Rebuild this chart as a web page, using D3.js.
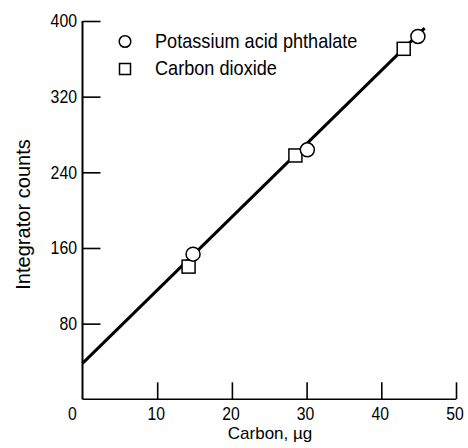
<!DOCTYPE html>
<html><head><meta charset="utf-8">
<script src="https://cdn.jsdelivr.net/npm/d3@7"></script>
<style>
html,body{margin:0;padding:0;background:#fff;}
text{font-family:"Liberation Sans",Arial,sans-serif;fill:#000;}
</style></head>
<body><svg id="c" width="468" height="448"></svg>
<script>
const xTicks = [10, 20, 30, 40, 50];
const yTicks = [80, 160, 240, 320, 400];
const kapX = [14.8, 30.1, 44.9];
const kapY = [153.5, 263.8, 383.7];
const co2X = [14.2, 28.5, 43.0];
const co2Y = [140.3, 257.8, 370.6];
const fitX = [0, 45.8];
const fitY = [38, 392.5];
const legendLabels = ["Potassium acid phthalate", "Carbon dioxide"];
const xLabel = "Carbon,  \u00b5g";
const yLabel = "Integrator counts";

const svg = d3.select("#c");
const x = d3.scaleLinear().domain([0, 50]).range([82.5, 456]);
const y = d3.scaleLinear().domain([0, 400]).range([399.3, 21]);

function label(g, tx, ty, txt, size, sx, anchor, rot) {
  return g.append("text")
    .attr("transform", `translate(${tx},${ty})` + (rot ? ` rotate(${rot})` : "") + ` scale(${sx},1)`)
    .attr("text-anchor", anchor).attr("font-size", size).text(txt);
}

// axes
const xAxis = d3.axisBottom(x).tickValues(xTicks).tickSize(-17).tickFormat(d3.format("d"));
const gx = svg.append("g").attr("transform", `translate(0,${y(0)})`).call(xAxis);
gx.select(".domain").attr("stroke", "#000").attr("stroke-width", 1.6).attr("d", `M${x(0)},0H${x(50)}`);
gx.selectAll(".tick line").attr("stroke", "#000").attr("stroke-width", 1.6);
gx.selectAll(".tick text").remove();
const yAxis = d3.axisLeft(y).tickValues(yTicks).tickSize(-18).tickFormat(d3.format("d"));
const gy = svg.append("g").attr("transform", `translate(${x(0)},0)`).call(yAxis);
gy.select(".domain").attr("stroke", "#000").attr("stroke-width", 2).attr("d", `M0,${y(0)}V${y(400)}`);
gy.selectAll(".tick line").attr("stroke", "#000").attr("stroke-width", 1.6);
gy.selectAll(".tick text").remove();

// tick labels
const tl = svg.append("g");
[0].concat(xTicks).forEach(d => label(tl, x(d) - (d === 0 ? 10 : 1), 419.5, d, 17.5, 0.9, "middle"));
yTicks.forEach(d => label(tl, 77, y(d) + 6.4, d, 18, 0.88, "end"));

// axis titles
label(svg, 270, 438.5, xLabel, 17, 1.0, "middle");
label(svg, 30, 214.5, yLabel, 19.5, 1.03, "middle", -90);

// fit line
const line = d3.line().x(d => x(d[0])).y(d => y(d[1]));
svg.append("path").datum(fitX.map((v, i) => [v, fitY[i]])).attr("d", line)
  .attr("fill", "none").attr("stroke", "#000").attr("stroke-width", 3);

// markers
svg.append("g").selectAll("rect").data(co2X.map((v, i) => [v, co2Y[i]])).join("rect")
  .attr("x", d => x(d[0]) - 6.5).attr("y", d => y(d[1]) - 6.5).attr("width", 13).attr("height", 13)
  .attr("fill", "#fff").attr("stroke", "#000").attr("stroke-width", 1.5);
svg.append("g").selectAll("circle").data(kapX.map((v, i) => [v, kapY[i]])).join("circle")
  .attr("cx", d => x(d[0])).attr("cy", d => y(d[1])).attr("r", 7)
  .attr("fill", "#fff").attr("stroke", "#000").attr("stroke-width", 1.5);

// legend
const lg = svg.append("g");
lg.append("circle").attr("cx", 125).attr("cy", 41.5).attr("r", 5.8).attr("fill", "#fff").attr("stroke", "#000").attr("stroke-width", 1.5);
lg.append("rect").attr("x", 119.5).attr("y", 63.5).attr("width", 11).attr("height", 11).attr("fill", "#fff").attr("stroke", "#000").attr("stroke-width", 1.5);
label(lg, 155, 47.5, legendLabels[0], 19.5, 0.93, "start");
label(lg, 155, 75, legendLabels[1], 19.5, 0.93, "start");
</script></body></html>
